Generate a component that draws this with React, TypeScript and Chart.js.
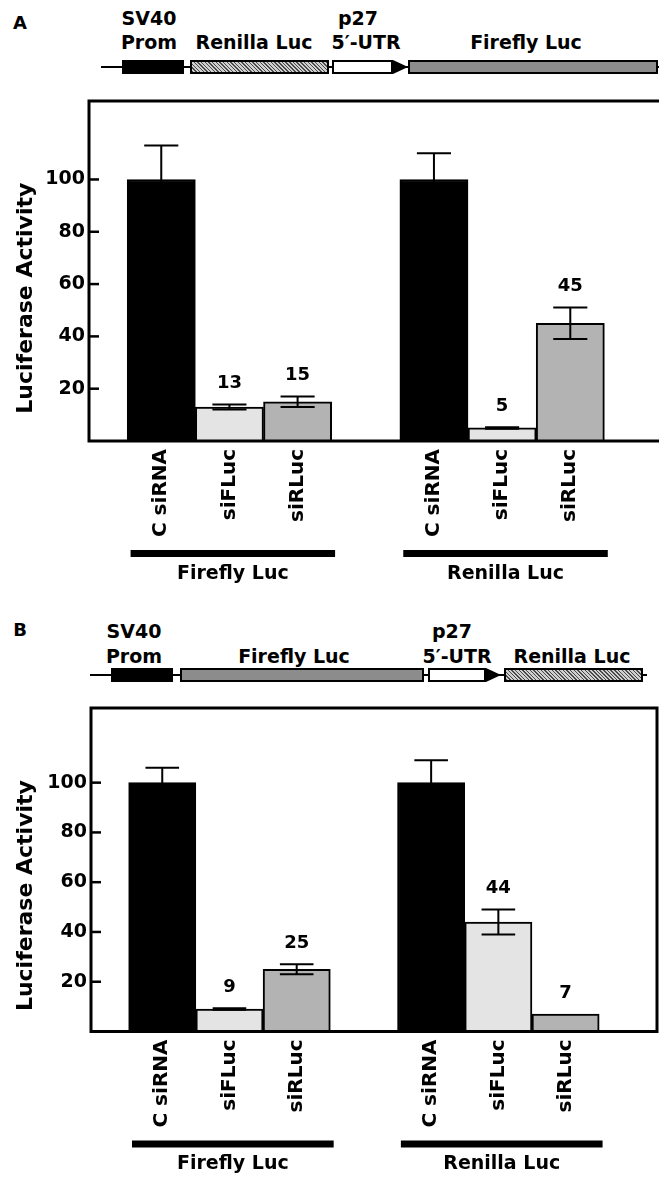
import React, { useEffect, useRef } from 'react';
import { Chart, registerables } from 'chart.js';

Chart.register(...registerables);

const FONT = '"DejaVu Sans", "Liberation Sans", sans-serif';

// ---- data ----
const barLabels = ['C siRNA', 'siFLuc', 'siRLuc', 'C siRNA', 'siFLuc', 'siRLuc'];
const barPositions = [1, 2, 3, 5, 6, 7];
const barColors = ['#000000', '#e4e4e4', '#b3b3b3', '#000000', '#e4e4e4', '#b3b3b3'];
const groupNames = ['Firefly Luc', 'Renilla Luc'];
const groupStart = [0, 3];
const groupEnd = [2, 5];
const yTicks = [20, 40, 60, 80, 100];

const valuesA = [100, 13, 15, 100, 5, 45];
const errorsA = [13, 1, 2, 10, 0.3, 6];
const labelsA = ['', '13', '15', '', '5', '45'];

const valuesB = [100, 9, 25, 100, 44, 7];
const errorsB = [6, 0.3, 2, 9, 5, 0];
const labelsB = ['', '9', '25', '', '44', '7'];

const yTitle = 'Luciferase Activity';

type PanelCfg = {
  values: number[];
  errors: number[];
  labels: string[];
  width: number;
  height: number;
  padTop: number;
  padRight: number;
  yWidth: number;
  xHeight: number;
};

function makeDecor(cfg: PanelCfg) {
  return {
    id: 'decor',
    afterDraw(chart: any) {
      const { ctx, chartArea } = chart;
      const x = chart.scales.x;
      const y = chart.scales.y;
      const meta = chart.getDatasetMeta(0);
      ctx.save();
      // error bars
      ctx.strokeStyle = '#000';
      ctx.lineWidth = 2;
      meta.data.forEach((bar: any, i: number) => {
        const v = cfg.values[i];
        const e = cfg.errors[i];
        if (e > 0) {
          const cx = bar.x;
          const half = bar.width / 4;
          const yt = y.getPixelForValue(v + e);
          const yb = y.getPixelForValue(v - e);
          ctx.beginPath();
          ctx.moveTo(cx, yt);
          ctx.lineTo(cx, yb);
          ctx.moveTo(cx - half, yt);
          ctx.lineTo(cx + half, yt);
          ctx.moveTo(cx - half, yb);
          ctx.lineTo(cx + half, yb);
          ctx.stroke();
        }
      });
      // value labels
      ctx.fillStyle = '#000';
      ctx.font = `bold 18px ${FONT}`;
      ctx.textAlign = 'center';
      ctx.textBaseline = 'middle';
      meta.data.forEach((bar: any, i: number) => {
        const t = cfg.labels[i];
        if (!t) return;
        const top = y.getPixelForValue(cfg.values[i] + cfg.errors[i]);
        ctx.fillText(t, bar.x, top - 21);
      });
      // frame
      ctx.lineWidth = 3;
      ctx.strokeRect(chartArea.left, chartArea.top, chartArea.right - chartArea.left, chartArea.bottom - chartArea.top);
      // inward tick marks
      ctx.lineWidth = 2.5;
      yTicks.forEach((t) => {
        const py = y.getPixelForValue(t);
        ctx.beginPath();
        ctx.moveTo(chartArea.left, py);
        ctx.lineTo(chartArea.left + 10, py);
        ctx.stroke();
      });
      // y title
      ctx.save();
      ctx.font = `bold 22px ${FONT}`;
      ctx.translate(26, chartArea.top + 0.58 * (chartArea.bottom - chartArea.top));
      ctx.rotate(-Math.PI / 2);
      ctx.fillText(yTitle, 0, 0);
      ctx.restore();
      // group brackets + names
      ctx.font = `bold 19px ${FONT}`;
      groupNames.forEach((name, g) => {
        const x1 = x.getPixelForValue(barPositions[groupStart[g]] - 0.45);
        const x2 = x.getPixelForValue(barPositions[groupEnd[g]] + 0.55);
        ctx.fillRect(x1, chartArea.bottom + 109, x2 - x1, 7);
        ctx.fillText(name, (x1 + x2) / 2, chartArea.bottom + 133);
      });
      ctx.restore();
    },
  };
}

function BarPanel({ cfg, style }: { cfg: PanelCfg; style: React.CSSProperties }) {
  const ref = useRef<HTMLCanvasElement | null>(null);
  useEffect(() => {
    if (!ref.current) return;
    const chart = new Chart(ref.current, {
      type: 'bar',
      data: {
        datasets: [
          {
            data: barPositions.map((p, i) => ({ x: p, y: cfg.values[i] })) as any,
            backgroundColor: barColors,
            borderColor: '#000',
            borderWidth: 2,
            barPercentage: 1,
            categoryPercentage: 1,
          },
        ],
      },
      options: {
        responsive: false,
        animation: false,
        devicePixelRatio: 1,
        layout: { padding: { top: cfg.padTop, right: cfg.padRight, left: 0, bottom: 0 } },
        plugins: { legend: { display: false }, tooltip: { enabled: false } },
        scales: {
          x: {
            type: 'linear',
            offset: false,
            min: -0.06,
            max: 8.36,
            grid: { display: false, drawTicks: false, offset: false },
            border: { display: false },
            afterBuildTicks: (s: any) => {
              s.ticks = barPositions.map((v) => ({ value: v }));
            },
            afterFit: (s: any) => {
              s.height = cfg.xHeight;
            },
            ticks: {
              autoSkip: false,
              minRotation: 90,
              maxRotation: 90,
              padding: 8,
              color: '#000',
              font: { family: FONT, size: 20, weight: 'bold' },
              callback: (_v: any, i: number) => barLabels[i],
            },
          },
          y: {
            min: 0,
            max: 130,
            grid: { display: false, drawTicks: false },
            border: { display: false },
            afterBuildTicks: (s: any) => {
              s.ticks = yTicks.map((v) => ({ value: v }));
            },
            afterFit: (s: any) => {
              s.width = cfg.yWidth;
            },
            ticks: {
              padding: 4,
              color: '#000',
              font: { family: FONT, size: 19, weight: 'bold' },
            },
          },
        },
      } as any,
      plugins: [makeDecor(cfg)],
    });
    return () => chart.destroy();
  }, [cfg]);
  return (
    <canvas
      ref={ref}
      width={cfg.width}
      height={cfg.height}
      style={{ position: 'absolute', width: cfg.width, height: cfg.height, ...style }}
    />
  );
}

type Seg = { kind: 'prom' | 'ren' | 'utr' | 'ff'; l: number; r: number };

function Construct({ top, lineL, lineR, segs, texts }: { top: number; lineL: number; lineR: number; segs: Seg[]; texts: { t: string; x: number; y: number }[] }) {
  const boxH = 14;
  const bg: Record<string, string> = {
    prom: '#000',
    ren: 'repeating-linear-gradient(45deg, #4a4a4a 0px, #4a4a4a 1px, #cfcfcf 1px, #cfcfcf 2.6px)',
    utr: '#fff',
    ff: '#8c8c8c',
  };
  return (
    <>
      <div style={{ position: 'absolute', left: lineL, top: top - 1, width: lineR - lineL, height: 2, background: '#000' }} />
      {segs.map((s, i) => (
        <React.Fragment key={i}>
          <div
            style={{
              position: 'absolute',
              left: s.l,
              top: top - boxH / 2,
              width: s.r - s.l,
              height: boxH,
              boxSizing: 'border-box',
              border: '2px solid #000',
              background: bg[s.kind],
            }}
          />
          {s.kind === 'utr' && (
            <div
              style={{
                position: 'absolute',
                left: s.r,
                top: top - boxH / 2,
                width: 0,
                height: 0,
                borderTop: `${boxH / 2}px solid transparent`,
                borderBottom: `${boxH / 2}px solid transparent`,
                borderLeft: '15px solid #000',
              }}
            />
          )}
        </React.Fragment>
      ))}
      {texts.map((t, i) => (
        <div
          key={'t' + i}
          style={{
            position: 'absolute',
            left: t.x,
            top: t.y,
            transform: 'translate(-50%, -50%)',
            fontWeight: 'bold',
            fontSize: 19,
            lineHeight: 1,
            whiteSpace: 'nowrap',
          }}
        >
          {t.t}
        </div>
      ))}
    </>
  );
}

const cfgA: PanelCfg = {
  values: valuesA,
  errors: errorsA,
  labels: labelsA,
  width: 680,
  height: 520,
  padTop: 21,
  padRight: 17,
  yWidth: 89,
  xHeight: 159,
};

const cfgB: PanelCfg = {
  values: valuesB,
  errors: errorsB,
  labels: labelsB,
  width: 659,
  height: 487,
  padTop: 18,
  padRight: 2,
  yWidth: 91,
  xHeight: 145.5,
};

export default function App() {
  return (
    <div
      style={{
        position: 'absolute',
        left: 0,
        top: 0,
        width: 659,
        height: 1177,
        overflow: 'hidden',
        background: '#fff',
        fontFamily: FONT,
        color: '#000',
      }}
    >
      <div style={{ position: 'absolute', left: 20, top: 23, transform: 'translate(-50%,-50%)', fontWeight: 'bold', fontSize: 18, lineHeight: 1 }}>A</div>
      <Construct
        top={67}
        lineL={101}
        lineR={659}
        segs={[
          { kind: 'prom', l: 122, r: 184 },
          { kind: 'ren', l: 190, r: 329 },
          { kind: 'utr', l: 332, r: 393 },
          { kind: 'ff', l: 408, r: 658 },
        ]}
        texts={[
          { t: 'SV40', x: 149, y: 18 },
          { t: 'Prom', x: 149, y: 42 },
          { t: 'Renilla Luc', x: 254, y: 42 },
          { t: 'p27', x: 358, y: 18 },
          { t: '5\u2032-UTR', x: 366, y: 42 },
          { t: 'Firefly Luc', x: 526, y: 42 },
        ]}
      />
      <BarPanel cfg={cfgA} style={{ left: 0, top: 80 }} />

      <div style={{ position: 'absolute', left: 20, top: 630, transform: 'translate(-50%,-50%)', fontWeight: 'bold', fontSize: 18, lineHeight: 1 }}>B</div>
      <Construct
        top={675}
        lineL={90}
        lineR={647}
        segs={[
          { kind: 'prom', l: 111, r: 173 },
          { kind: 'ff', l: 180, r: 424 },
          { kind: 'utr', l: 428, r: 486 },
          { kind: 'ren', l: 504, r: 643 },
        ]}
        texts={[
          { t: 'SV40', x: 134, y: 631 },
          { t: 'Prom', x: 134, y: 656 },
          { t: 'Firefly Luc', x: 294, y: 656 },
          { t: 'p27', x: 452, y: 631 },
          { t: '5\u2032-UTR', x: 457, y: 656 },
          { t: 'Renilla Luc', x: 572, y: 656 },
        ]}
      />
      <BarPanel cfg={cfgB} style={{ left: 0, top: 690 }} />
    </div>
  );
}
